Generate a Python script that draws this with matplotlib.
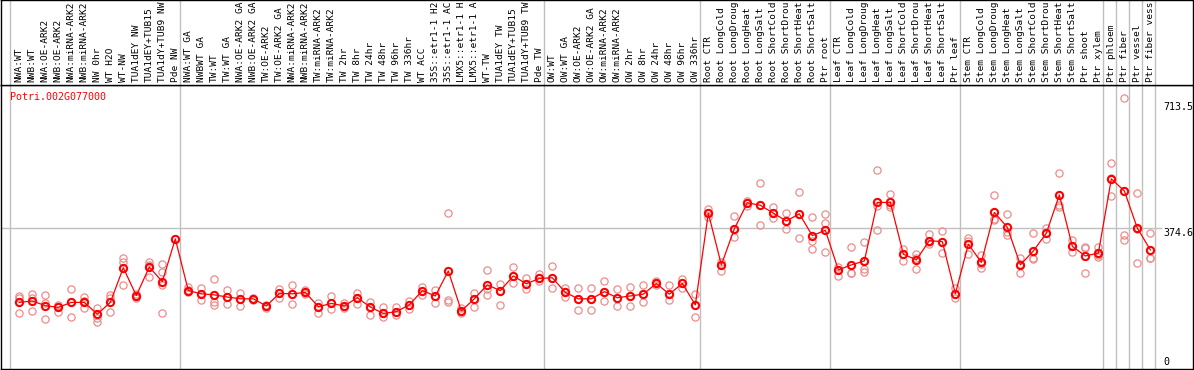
import matplotlib
matplotlib.use("Agg")
import matplotlib.pyplot as plt
import numpy as np

gene_id = "Potri.002G077000"

# sample names as far as the header shows them (14 characters at most)
sample_labels = [
    "NWA:WT", "NWB:WT", "NWA:OE-ARK2", "NWB:OE-ARK2", "NWA:miRNA-ARK2",
    "NWB:miRNA-ARK2", "NW 0hr", "WT H2O", "WT-NW", "TUA1dEY NW",
    "TUA1dEY+TUB15", "TUA1dY+TUB9 NW", "Pde NW",
    "NWA:WT GA", "NWBWT GA", "TW:WT", "TW:WT GA", "NWA:OE-ARK2 GA",
    "NWB:OE-ARK2 GA", "TW:OE-ARK2", "TW:OE-ARK2 GA", "NWA:miRNA-ARK2",
    "NWB:miRNA-ARK2", "TW:miRNA-ARK2", "TW:miRNA-ARK2", "TW 2hr",
    "TW 8hr", "TW 24hr", "TW 48hr", "TW 96hr", "TW 336hr", "WT ACC",
    "35S::etr1-1 H2", "35S::etr1-1 AC", "LMX5::etr1-1 H",
    "LMX5::etr1-1 A", "WT-TW", "TUA1dEY TW", "TUA1dEY+TUB15",
    "TUA1dY+TUB9 TW", "Pde TW",
    "OW:WT", "OW:WT GA", "OW:OE-ARK2", "OW:OE-ARK2 GA", "OW:miRNA-ARK2",
    "OW:miRNA-ARK2", "OW 2hr", "OW 8hr", "OW 24hr", "OW 48hr", "OW 96hr",
    "OW 336hr",
    "Root CTR", "Root LongCold", "Root LongDroug", "Root LongHeat",
    "Root LongSalt", "Root ShortCold", "Root ShortDrou", "Root ShortHeat",
    "Root ShortSalt", "Ptr root",
    "Leaf CTR", "Leaf LongCold", "Leaf LongDroug", "Leaf LongHeat",
    "Leaf LongSalt", "Leaf ShortCold", "Leaf ShortDrou", "Leaf ShortHeat",
    "Leaf ShortSalt", "Ptr leaf",
    "Stem CTR", "Stem LongCold", "Stem LongDroug", "Stem LongHeat",
    "Stem LongSalt", "Stem ShortCold", "Stem ShortDrou", "Stem ShortHeat",
    "Stem ShortSalt", "Ptr shoot", "Ptr xylem",
    "Ptr phloem", "Ptr fiber", "Ptr vessel", "Ptr fiber vess",
]

mean_values = [
    167, 171, 158, 153, 167, 167, 134, 167, 264, 186, 266, 225, 345,
    200, 191, 188, 182, 177, 177, 157, 192, 191, 195, 155, 164, 157, 180,
    154, 136, 141, 160, 200, 185, 255, 143, 177, 216, 200, 241, 219, 234,
    236, 195, 177, 177, 197, 180, 185, 190, 220, 190, 220, 160,
    417, 272, 373, 446, 439, 417, 395, 415, 354, 369,
    258, 272, 283, 447, 447, 302, 286, 340, 337, 191,
    330, 279, 419, 377, 272, 311, 361, 468, 324, 297, 305,
    513, 479, 375, 314,
]

replicate_values = [
    [186, 178, 136], [190, 178, 143], [188, 164, 120], [161, 155, 141],
    [205, 167, 125], [182, 171, 152], [152, 122, 113], [188, 179, 141],
    [292, 281, 216], [190, 178, 185], [281, 237, 272], [274, 253, 216, 138],
    [345],
    [211, 195, 201], [208, 174, 190], [233, 169, 160], [202, 163, 182],
    [194, 158, 177], [180, 176, 174], [160, 152, 157], [204, 180, 192],
    [216, 163, 191], [202, 190, 195], [164, 138, 155], [185, 148, 164],
    [164, 150, 157], [194, 163, 180], [169, 132, 154], [155, 125, 136],
    [153, 132, 141], [171, 149, 160], [209, 188, 200], [202, 164, 185],
    [417, 174, 169], [150, 138, 143], [192, 153, 177], [258, 188, 204],
    [219, 160, 200], [267, 220, 241], [236, 204, 219], [246, 227, 234],
    [269, 208, 236], [208, 183, 195], [206, 146, 177], [206, 146, 177],
    [228, 171, 197], [204, 157, 180], [209, 157, 185], [216, 169, 190],
    [227, 216, 220], [216, 174, 190], [233, 206, 220], [190, 125, 160],
    [428, 407, 417], [281, 256, 272], [409, 351, 373], [451, 438, 446],
    [501, 384, 439], [435, 403, 417], [417, 373, 395], [475, 348, 415],
    [405, 340, 316], [414, 389, 307],
    [267, 242, 258], [321, 248, 250], [335, 253, 260], [538, 438, 370],
    [471, 435, 440], [317, 284, 302], [303, 260, 290], [359, 331, 335],
    [367, 305, 337], [206, 178, 191],
    [347, 302, 340], [300, 263, 275], [468, 398, 400], [415, 356, 365],
    [291, 248, 275], [361, 289, 290], [376, 344, 360], [529, 435, 440],
    [342, 307, 324], [323, 248, 318], [321, 295, 300],
    [557, 466, 515], [739, 356, 342], [473, 277, 373], [361, 291, 290],
]

# index of the last sample in each block (a grey separator follows it)
group_ends = [12, 40, 52, 62, 72, 83, 84, 85, 86, 87]

y_max_label = 713.5
y_mid_label = 374.6

RED = "#ff0000"
PINK = "#ec8c8c"
GRID = "#c0c0c0"
MONO = "DejaVu Sans Mono"

W, H = 1194, 370
fig = plt.figure(figsize=(W / 100, H / 100), dpi=100)

left = 1 / W
width = 1192 / W
split = 1 - 85 / H
ax = fig.add_axes([left, 1 - 369 / H, width, split - (1 - 369 / H)])
ax_lab = fig.add_axes([left, split, width, 1 - split], sharex=ax)

x = np.arange(len(sample_labels))
ax.set_xlim(-1.408, 90.28)
ax.set_ylim(-19.6, 775.9)

# separators
sep_positions = [-0.69] + [e + 0.38 for e in group_ends]
for a in (ax, ax_lab):
    for s in sep_positions:
        a.axvline(s, color=GRID, lw=1.0, zorder=1)
ax.axhline(y_mid_label, xmax=(1161 - 1) / 1192, color=GRID, lw=1.0, zorder=1)

# replicates, then the mean profile
for xi, reps in zip(x, replicate_values):
    ax.plot([xi] * len(reps), reps, linestyle="none", marker="o",
            ms=5.2, mfc="none", mec=PINK, mew=0.9, zorder=2)
ax.plot(x, mean_values, color=RED, lw=0.9, zorder=3)
ax.plot(x, mean_values, linestyle="none", marker="o", ms=5.2,
        mfc="none", mec=RED, mew=1.5, zorder=4)

ax.text(9.3 / 1192, 1 - (97.3 - 85) / 284, gene_id, transform=ax.transAxes,
        color=RED, fontsize=7.2, family=MONO, ha="left", va="center")

tx = (1163 - 1) / 1192
trans = ax.get_yaxis_transform()
ax.text(tx, y_max_label, f"{y_max_label}", transform=trans, fontsize=7.2,
        family=MONO, ha="left", va="center")
ax.text(tx, y_mid_label, f"{y_mid_label}", transform=trans, fontsize=7.2,
        family=MONO, ha="left", va="top")
ax.text(tx, 0, "0", transform=trans, fontsize=7.2, family=MONO,
        ha="left", va="center")

ax_lab.set_ylim(0, 1)
for xi, name in zip(x, sample_labels):
    ax_lab.text(xi, 3 / 85, name, rotation=90, ha="center", va="bottom",
                fontsize=6.8, family=MONO)

for a in (ax, ax_lab):
    a.set_xticks([])
    a.set_yticks([])
    for sp in a.spines.values():
        sp.set_color("black")
        sp.set_linewidth(1.0)

fig.savefig("out.png", dpi=100)
